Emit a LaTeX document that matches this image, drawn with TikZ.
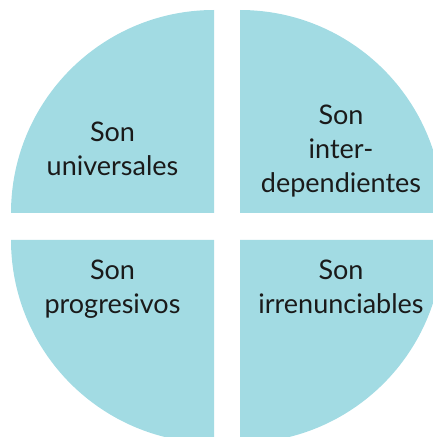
\documentclass[tikz,border=0pt]{standalone}
\usepackage{fontspec}
\setmainfont{Lato}
\definecolor{quadblue}{HTML}{A2DBE3}
\definecolor{labeltext}{HTML}{1A1A1A}
\tikzset{
  quad/.style={fill=quadblue},
  quadlabel/.style={anchor=base, align=center, text=labeltext, inner sep=0pt,
    font=\fontsize{27}{34}\selectfont}
}
\begin{document}
\begin{tikzpicture}[x=1pt,y=1pt]
\clip (0,0) rectangle (433,437);
\useasboundingbox (0,0) rectangle (433,437);
% cuatro cuartos del circulo
\fill[quad] (214,224) -- (11,224) arc[start angle=180, end angle=90, radius=203] -- cycle;
\fill[quad] (240,224) -- (240,427) arc[start angle=90, end angle=0, radius=203] -- cycle;
\fill[quad] (214,197) -- (214,-6) arc[start angle=270, end angle=180, radius=203] -- cycle;
\fill[quad] (240,197) -- (443,197) arc[start angle=0, end angle=-90, radius=203] -- cycle;
% textos
\node[quadlabel] (univ) at (112.5,261) {Son\\universales};
\node[quadlabel] (inter) at (341,244) {Son\\inter-\\dependientes};
\node[quadlabel] (prog) at (112.5,123) {Son\\progresivos};
\node[quadlabel] (irren) at (341,123) {Son\\irrenunciables};
\end{tikzpicture}
\end{document}
